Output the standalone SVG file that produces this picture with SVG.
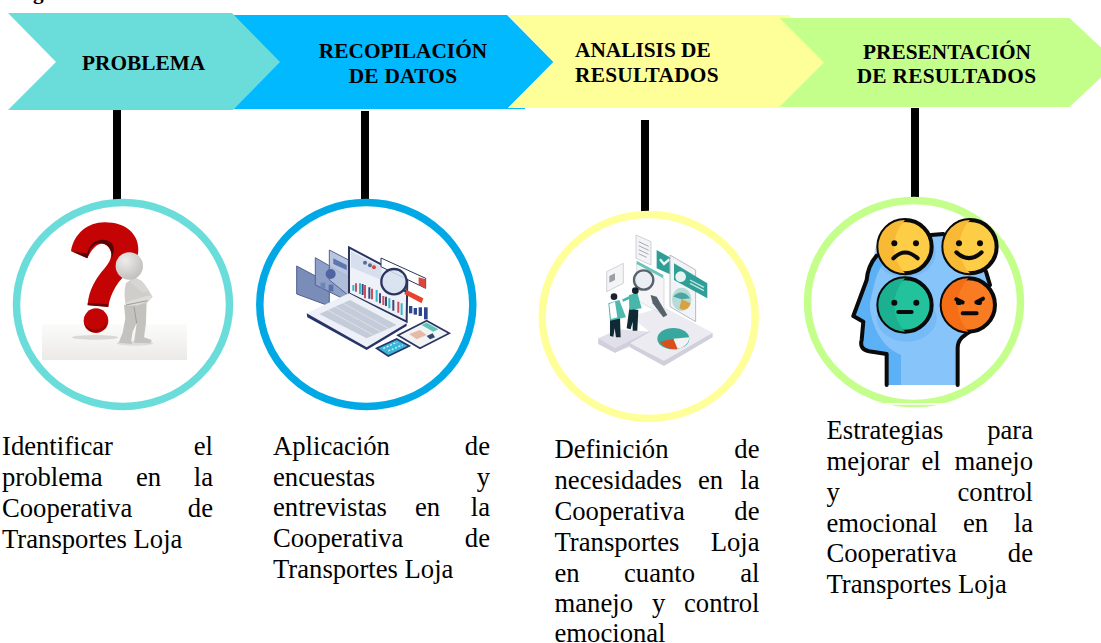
<svg xmlns="http://www.w3.org/2000/svg" width="1101" height="643" viewBox="0 0 1101 643">
<style>
text{font-family:"Liberation Serif","Times New Roman",serif;fill:#000}
.h{font-size:21.33px;font-weight:700}
.w{letter-spacing:.28px}
.m{text-anchor:middle}
.b{font-size:26.67px}
.e{text-anchor:end}
.bar{fill:#000}
.ring{fill:#fff;stroke-width:7.5}
.face{stroke:#0a0a0a;stroke-width:12}
.ln{fill:none;stroke:#0a0a0a;stroke-width:12;stroke-linecap:round;stroke-linejoin:round}
.eye{fill:#0a0a0a}
</style>
<defs>
<linearGradient id="floor" x1="0" y1="0" x2="0" y2="1"><stop offset="0" stop-color="#fbfbfa"/><stop offset="1" stop-color="#ebeae8"/></linearGradient>
<radialGradient id="ball" cx=".35" cy=".3" r=".8"><stop offset="0" stop-color="#eeedeb"/><stop offset="1" stop-color="#bdbbb7"/></radialGradient>
<filter id="soft" x="-5%" y="-5%" width="110%" height="110%"><feGaussianBlur stdDeviation="1.2"/></filter>
</defs>
<rect width="1101" height="643" fill="#fff"/>
<text class="h" x="14" y="-1">Figura</text>

<g id="connectors">
<rect class="bar" x="113" y="110" width="8" height="90"/>
<rect class="bar" x="361" y="111" width="8" height="89"/>
<rect class="bar" x="641" y="120" width="8" height="92"/>
<rect class="bar" x="911" y="108" width="8" height="90"/>
</g>

<g id="step-datos">
<polygon fill="#00b9ff" points="225,15 507,15 553.5,62 508,108 525,108 525,109 225,109"/>
<text class="h m" x="403" y="58">RECOPILACIÓN</text>
<text class="h m w" x="403" y="83">DE DATOS</text>
</g>
<g id="step-problema">
<polygon fill="#6addda" points="8,13 232,13 280,62 233,110 8,110 56,62"/>
<text class="h" x="82" y="70">PROBLEMA</text>
</g>
<g id="step-analisis">
<polygon fill="#ffff99" points="508,15 789,15 830,62 780,108 508,108 553.5,62"/>
<text class="h" x="575" y="57">ANALISIS DE</text>
<text class="h w" x="575" y="82">RESULTADOS</text>
</g>
<g id="step-presentacion">
<polygon fill="#c4ff8c" points="779.5,18 1069.5,18 1117,62.5 1069.5,107 779.5,107 824,62.5"/>
<text class="h m" x="947" y="59">PRESENTACIÓN</text>
<text class="h m w" x="946.5" y="83">DE RESULTADOS</text>
</g>

<g id="node-problema">
<ellipse class="ring" cx="123" cy="304.5" rx="106.5" ry="102" stroke="#6addda"/>
<g transform="translate(0 190) scale(.3333)">
<rect x="126" y="403" width="435" height="107" fill="url(#floor)"/>
<ellipse cx="285" cy="442" rx="70" ry="7" fill="#c9c6c2" opacity=".6" filter="url(#soft)"/>
<ellipse cx="405" cy="460" rx="55" ry="7" fill="#c9c6c2" opacity=".5" filter="url(#soft)"/>
<path fill="#c40404" d="M213,183C222,130 265,96 315,97C375,97 415,130 415,178C415,228 372,250 347,290C335,310 328,330 325,350L263,345C266,300 288,265 314,235C332,214 342,192 325,170C305,150 280,165 262,205Z"/>
<path fill="#5a0505" d="M213,183L262,205L270,180C280,160 305,150 325,170C335,182 338,195 333,210C345,185 345,165 330,155C300,140 270,155 262,190L240,188Z"/>
<path fill="#6b0505" d="M263,338L325,343L325,351L263,346Z"/>
<circle cx="288" cy="392" r="37" fill="#c40404"/>
<path fill="#8f0505" d="M252,398C262,420 300,432 322,395C318,420 295,428 280,426C265,425 255,412 252,398Z"/>
<path fill="#c4c2be" d="M372,345L440,335L438,400L432,442L455,450L452,460L402,458L410,400L398,425L394,450L396,462L356,458L368,428L376,385Z"/>
<path fill="#d0cecb" d="M378,280C392,262 422,266 435,285L458,320L440,340L378,347C372,325 372,300 378,280Z"/>
<path fill="#dddcd9" d="M382,335L440,318L456,316L452,328L415,346L378,347Z"/>
<path fill="#d8d6d3" d="M382,250L425,272L448,302L428,308L395,280Z"/>
<path fill="none" stroke="#9f9d97" stroke-width="3" d="M410,400L402,350M378,345L442,332"/>
<circle cx="388" cy="228" r="41" fill="url(#ball)"/>
</g>
</g>

<g id="node-datos">
<ellipse class="ring" cx="366.3" cy="304.5" rx="106.5" ry="102" stroke="#00a9e6"/>
<g transform="translate(250 190) scale(.3333)">
<polygon fill="#7a8cb8" stroke="#51628f" stroke-width="3" points="140,228 238,280 238,348 140,312"/>
<polygon fill="#8ea0c8" stroke="#51628f" stroke-width="3" points="196,203 298,262 298,335 196,285"/>
<polygon fill="#b3bfdc" fill-opacity=".9" stroke="#51628f" stroke-width="3" points="238,180 300,212 300,320 238,270"/>
<circle cx="242" cy="252" r="15" fill="#4f64a0"/>
<rect x="212" y="278" width="14" height="18" fill="#6f83b5"/><rect x="236" y="284" width="14" height="20" fill="#5b6fa8"/>
<path fill="#5f75ad" d="M250,205L290,225L290,240L250,222Z"/>
<polygon fill="#eef1f7" stroke="#2c3560" stroke-width="6" points="297,172 472,265 470,395 297,310"/>
<polygon fill="#d7dfee" points="303,184 395,232 395,270 303,232"/>
<g fill="#5b6a93"><circle cx="345" cy="218" r="6"/><circle cx="360" cy="226" r="6"/></g>
<circle cx="372" cy="232" r="6" fill="#d9463a"/>
<polygon fill="#fff" stroke="#2c3560" stroke-width="3" points="393,204 527,265 527,295 393,230"/>
<polygon fill="#d9463a" points="506,262 527,268 527,295 506,285"/>
<g stroke-width="6" fill="none">
<path stroke="#d14c5c" d="M318,280V305M345,285V325M400,318V345M445,335V368M366,296V328"/>
<path stroke="#35b8c5" d="M330,280V312M380,300V335M418,325V355M455,340V375M310,285V302"/>
<path stroke="#3a4a80" d="M358,292V326M390,310V340M430,330V362M338,282V315M408,320V348"/>
</g>
<circle cx="432" cy="275" r="38" fill="#d5e2ee" fill-opacity=".85" stroke="#2c3560" stroke-width="7"/>
<path stroke="#2c3560" stroke-width="8" d="M462,300L475,310"/>
<polygon fill="#e8432e" points="470,300 520,325 515,340 463,312"/>
<polygon fill="#eef0f7" points="170,370 297,310 470,400 350,472"/>
<polygon fill="#c3ccd8" points="208,372 300,330 440,405 350,445"/>
<path stroke="#e8ecf2" stroke-width="2" fill="none" d="M232,360L370,435M255,350L392,425M280,340L415,415"/>
<path fill="#27346a" d="M170,370L350,472L470,400L470,408L350,480L172,382Z"/>
<g fill="#2d4590"><rect x="477" y="348" width="10" height="22"/><rect x="491" y="354" width="10" height="20"/><rect x="506" y="352" width="10" height="26"/><rect x="522" y="352" width="11" height="36"/></g>
<polygon fill="#f1f3f5" stroke="#2c3560" stroke-width="5" points="444,436 530,392 598,430 510,475"/>
<polygon fill="#5cc5b8" points="515,405 530,398 565,418 550,425"/>
<path fill="#e6b9a8" d="M478,432L510,420L530,435L500,448Z"/>
<path fill="#35486e" d="M530,438L548,430L555,442L540,448Z"/>
<polygon fill="#39b6d8" stroke="#27346a" stroke-width="5" points="380,475 440,447 478,468 415,498"/>
<path stroke="#d6f4fa" stroke-width="4" stroke-dasharray="6 5" fill="none" d="M400,475L442,457M415,483L458,465"/>
</g>
</g>

<g id="node-analisis">
<ellipse class="ring" cx="648.7" cy="316.5" rx="106.5" ry="102" stroke="#ffff99"/>
<g transform="translate(530 200) scale(.3333)">
<polygon fill="#f4f4f6" stroke="#b9bdc4" stroke-width="2" points="318,105 363,125 363,195 318,175"/>
<path stroke="#a5a9b0" stroke-width="3" fill="none" d="M326,125L356,139M326,137L356,151M326,149L356,163M326,161L350,172"/>
<polygon fill="#f4f4f6" stroke="#b9bdc4" stroke-width="2" points="230,215 280,190 280,250 230,275"/>
<path fill="#9a9ea6" d="M238,228L255,220V240L238,248Z"/>
<polygon fill="#2f9e97" points="380,150 425,175 425,225 380,205"/>
<path stroke="#e8f6f4" stroke-width="7" fill="none" d="M390,178L402,192L418,178"/>
<polygon fill="#f2f3f6" stroke="#b5bac2" stroke-width="3" points="420,165 497,210 497,365 420,320"/>
<polygon fill="#2f9e97" points="432,190 532,250 532,295 432,240"/>
<circle cx="452" cy="230" r="16" fill="#e6f3f2"/>
<path stroke="#bfe6e2" stroke-width="4" fill="none" d="M480,240L522,262M480,250L522,272"/>
<ellipse cx="455" cy="298" rx="29" ry="35" fill="#b7dcd8"/>
<path fill="#d9a13f" d="M455,298L482,310C478,325 465,335 448,325Z"/>
<path fill="#4aa6a0" d="M455,298L430,290C445,270 470,275 480,295Z"/>
<polygon fill="#e1e0ea" points="205,415 265,388 360,395 300,440 255,458 205,432"/>
<polygon fill="#d0cfdc" points="205,415 255,445 255,458 205,432"/>
<polygon fill="#d0cfdc" points="255,445 360,392 360,405 255,458"/>
<polygon fill="#ecebf2" points="300,350 400,320 548,398 402,482 300,430 360,395"/>
<polygon fill="#d0cfdc" points="300,430 402,482 548,398 548,412 402,498 300,442"/>
<polygon fill="#f5f5f8" stroke="#cdd0d6" stroke-width="2" points="320,190 402,235 402,345 320,300"/>
<polygon fill="#6cc4bd" points="320,182 400,225 400,235 320,192"/>
<ellipse cx="430" cy="416" rx="48" ry="32" fill="#38a89f"/>
<path fill="#f3f3f5" d="M430,416L478,412C478,430 460,445 440,447Z"/>
<path fill="#db4f1d" d="M430,416L443,447C420,450 398,440 390,425Z"/>
<circle cx="341" cy="240" r="29" fill="#e8eef2" fill-opacity=".8" stroke="#58656f" stroke-width="7"/>
<polygon fill="#56626c" points="362,285 380,290 412,345 400,352 368,310"/>
<path fill="#0f2a35" d="M240,358L270,350L272,412L258,412L254,385L250,410L240,408Z"/>
<path fill="#4fb9ad" d="M235,310L268,300L288,352L240,362Z"/>
<path fill="#fff" d="M238,312L255,305L262,352L243,357Z"/>
<circle cx="252" cy="290" r="10" fill="#1a2230"/>
<path fill="#0f2a35" d="M298,325L325,330L322,392L308,392L308,365L302,388L290,385Z"/>
<path fill="#48b6a9" d="M297,285L322,278L335,325L298,330Z"/>
<circle cx="316" cy="272" r="10" fill="#13202c"/>
<path stroke="#48b6a9" stroke-width="8" fill="none" d="M300,292L278,302"/>
</g>
</g>

<g id="node-presentacion">
<ellipse class="ring" cx="914" cy="302" rx="106.5" ry="101.5" stroke="#c4ff8c"/>
<rect x="885" y="403" width="64" height="1.8" fill="#fff"/>
<g transform="translate(795 190) scale(.3333)">
<path fill="#86c4f9" d="M275,585V492L222,484C202,480 195,468 200,450L205,395L175,378L215,270C218,235 232,212 245,195L410,135H445L575,245L590,300L530,425C505,438 488,448 488,475V585Z"/>
<path fill="#5cb0f6" d="M275,585V492L222,484C202,480 195,468 200,450L205,395L175,378L215,270C218,235 232,212 245,195L262,225C245,250 240,270 225,340C222,380 250,470 318,495V585Z"/>
<ellipse cx="330" cy="190" rx="92" ry="72" fill="#5cb0f6" opacity=".4"/>
<ellipse cx="335" cy="385" rx="90" ry="70" fill="#5cb0f6" opacity=".4"/>
<path class="ln" d="M275,585V492L222,484C202,480 195,468 200,450L205,395L175,378L215,270C218,235 232,212 245,197"/>
<path class="ln" d="M408,135L445,132M573,245L585,285M525,425C505,438 488,448 488,475V585"/>
<circle class="face" cx="330" cy="170" r="80" fill="#fdcd45"/>
<path fill="#f8b934" d="M330,90A80,80 0 0 0 330,250A115,115 0 0 1 330,90Z"/>
<circle class="eye" cx="298" cy="160" r="9"/><circle class="eye" cx="363" cy="160" r="9"/>
<path class="ln" d="M295,205Q330,170 368,205"/>
<circle class="face" cx="525" cy="170" r="80" fill="#fdcd45"/>
<path fill="#f8b934" d="M525,90A80,80 0 0 0 525,250A115,115 0 0 1 525,90Z"/>
<circle class="eye" cx="492" cy="160" r="9"/><circle class="eye" cx="555" cy="160" r="9"/>
<path class="ln" d="M484,187Q522,222 560,187"/>
<circle class="face" cx="330" cy="345" r="80" fill="#21c29c"/>
<path fill="#1bb08f" d="M330,265A80,80 0 0 0 330,425A115,115 0 0 1 330,265Z"/>
<circle class="eye" cx="298" cy="338" r="9"/><circle class="eye" cx="364" cy="338" r="9"/>
<path class="ln" d="M310,366H350"/>
<circle class="face" cx="520" cy="345" r="80" fill="#f97b22"/>
<path fill="#f56d15" d="M520,265A80,80 0 0 0 520,425A115,115 0 0 1 520,265Z"/>
<ellipse class="eye" cx="492" cy="338" rx="9" ry="7"/><ellipse class="eye" cx="552" cy="338" rx="9" ry="7"/>
<path class="ln" d="M484,328L503,337M564,326L544,337M503,370H545"/>
</g>
</g>

<g id="text-problema">
<text class="b" x="2" y="455">Identificar</text><text class="b e" x="213" y="455">el</text>
<text class="b" x="2" y="486">problema</text><text class="b" x="136" y="486">en</text><text class="b e" x="213" y="486">la</text>
<text class="b" x="2" y="517">Cooperativa</text><text class="b e" x="213" y="517">de</text>
<text class="b" x="2" y="547.5">Transportes Loja</text>
</g>
<g id="text-datos">
<text class="b" x="273" y="455">Aplicación</text><text class="b e" x="490" y="455">de</text>
<text class="b" x="273" y="485.5">encuestas</text><text class="b e" x="490" y="485.5">y</text>
<text class="b" x="273" y="516">entrevistas</text><text class="b" x="415" y="516">en</text><text class="b e" x="490" y="516">la</text>
<text class="b" x="273" y="546.5">Cooperativa</text><text class="b e" x="490" y="546.5">de</text>
<text class="b" x="273" y="577.5">Transportes Loja</text>
</g>
<g id="text-analisis">
<text class="b" x="554.5" y="458">Definición</text><text class="b e" x="759.5" y="458">de</text>
<text class="b" x="554.5" y="489">necesidades</text><text class="b" x="698" y="489">en</text><text class="b e" x="759.5" y="489">la</text>
<text class="b" x="554.5" y="520">Cooperativa</text><text class="b e" x="759.5" y="520">de</text>
<text class="b" x="554.5" y="551">Transportes</text><text class="b e" x="759.5" y="551">Loja</text>
<text class="b" x="554.5" y="581.5">en</text><text class="b" x="624" y="581.5">cuanto</text><text class="b e" x="759.5" y="581.5">al</text>
<text class="b" x="554.5" y="612">manejo</text><text class="b" x="652" y="612">y</text><text class="b e" x="759.5" y="612">control</text>
<text class="b" x="554.5" y="642">emocional</text>
</g>
<g id="text-presentacion">
<text class="b" x="826.5" y="439">Estrategias</text><text class="b e" x="1033" y="439">para</text>
<text class="b" x="826.5" y="470">mejorar</text><text class="b" x="921.5" y="470">el</text><text class="b e" x="1033" y="470">manejo</text>
<text class="b" x="826.5" y="500.5">y</text><text class="b e" x="1033" y="500.5">control</text>
<text class="b" x="826.5" y="531.5">emocional</text><text class="b" x="963" y="531.5">en</text><text class="b e" x="1033" y="531.5">la</text>
<text class="b" x="826.5" y="562">Cooperativa</text><text class="b e" x="1033" y="562">de</text>
<text class="b" x="826.5" y="592.5">Transportes Loja</text>
</g>
</svg>
